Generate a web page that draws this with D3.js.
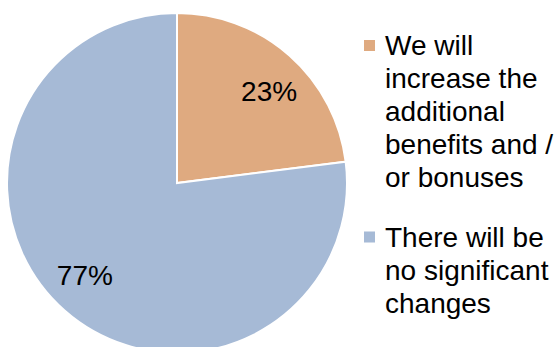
<!DOCTYPE html>
<html>
<head>
<meta charset="utf-8">
<script src="https://cdn.jsdelivr.net/npm/d3@7"></script>
<style>
  html, body { margin: 0; padding: 0; background: #fff; }
  svg { display: block; font-family: "Liberation Sans", Arial, sans-serif; }
</style>
</head>
<body>
<svg id="chart" width="558" height="347"></svg>
<script>
// Survey answers and their shares (percent)
const categories = [
  "We will increase the additional benefits and / or bonuses",
  "There will be no significant changes"
];
const values = [23, 77];
const colors = ["#DFAA80", "#A6BAD6"];

const W = 558, H = 347;
const cx = 177, cy = 183, radius = 170;

const svg = d3.select("#chart");

const pie = d3.pie().sort(null).value(d => d.value).startAngle(0).endAngle(2 * Math.PI);
const data = pie(categories.map((c, i) => ({ name: c, value: values[i], color: colors[i] })));

const arc = d3.arc().innerRadius(0).outerRadius(radius);
const g = svg.append("g").attr("transform", `translate(${cx},${cy})`);

g.selectAll("path.slice")
  .data(data)
  .join("path")
  .attr("class", "slice")
  .attr("d", arc)
  .attr("fill", d => d.data.color)
  .attr("stroke", "#fff")
  .attr("stroke-width", 2)
  .attr("stroke-linejoin", "miter");

// Percentage labels, placed a bit beyond mid-radius inside each slice
const labelR = 130, labelShift = 0.065;
g.selectAll("text.pct")
  .data(data)
  .join("text")
  .attr("class", "pct")
  .attr("x", d => labelR * Math.sin((d.startAngle + d.endAngle) / 2 + labelShift))
  .attr("y", d => -labelR * Math.cos((d.startAngle + d.endAngle) / 2 + labelShift))
  .attr("text-anchor", "middle")
  .attr("dy", "0.36em")
  .attr("font-size", 28)
  .attr("fill", "#000")
  .text(d => d.data.value + "%");

// Legend with wrapped entries
const legendX = 364, textX = 385, lineH = 33, wrapW = 172;
const entryTops = [55, 246.5];

const legend = svg.append("g");
categories.forEach((c, i) => {
  const baseY = entryTops[i];
  legend.append("rect")
    .attr("x", legendX)
    .attr("y", baseY - 15)
    .attr("width", 11)
    .attr("height", 11)
    .attr("fill", colors[i]);

  const t = legend.append("text")
    .attr("x", textX)
    .attr("y", baseY)
    .attr("font-size", 28)
    .attr("fill", "#000");

  const words = c.split(" ");
  let line = [];
  let tspan = t.append("tspan").attr("x", textX).attr("y", baseY);
  let n = 0;
  words.forEach(w => {
    line.push(w);
    tspan.text(line.join(" "));
    if (tspan.node().getComputedTextLength() > wrapW && line.length > 1) {
      line.pop();
      tspan.text(line.join(" "));
      line = [w];
      n += 1;
      tspan = t.append("tspan").attr("x", textX).attr("y", baseY + n * lineH).text(w);
    }
  });
});
</script>
</body>
</html>
